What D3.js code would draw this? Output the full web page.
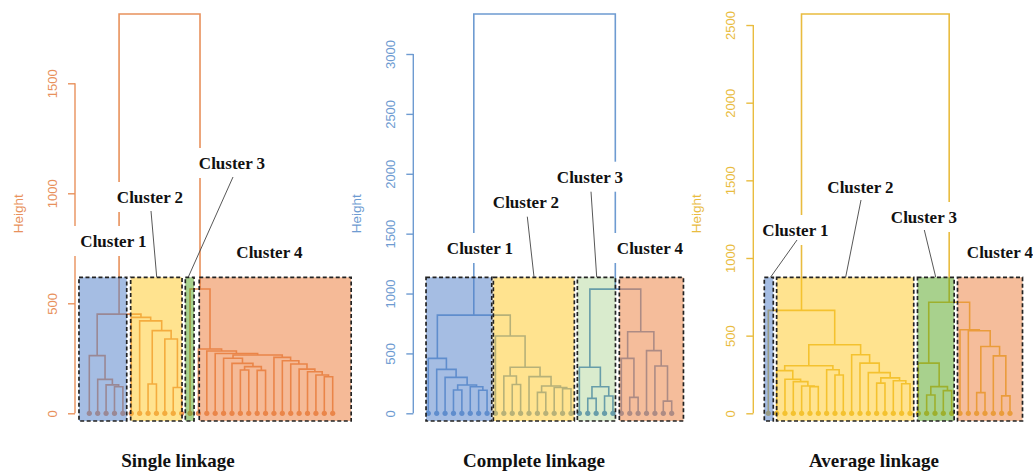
<!DOCTYPE html>
<html>
<head>
<meta charset="utf-8">
<script src="https://cdnjs.cloudflare.com/ajax/libs/d3/7.8.5/d3.min.js"></script>
<style>
  body { margin: 0; background: #fff; }
  svg { display: block; }
</style>
</head>
<body>
<div id="chart"></div>
<script>
// 30 samples, leaves numbered left to right as they sit in each dendrogram
let leafCount = 30

// merges in hclust style: negative = leaf (-1 is the leftmost), positive = earlier merge (1-based), then height
let singleMerge = [
  [-4, -5, 121], [-3, 1, 129], [-2, 2, 154], [-1, 3, 262],
  [-8, -9, 133], [-11, -12, 117], [-10, 6, 338], [5, 7, 376], [-7, 8, 420], [-6, 9, 436],
  [4, 10, 451],
  [-19, -20, 197], [-21, -22, 195], [12, 13, 212], [-18, 14, 227], [-17, 15, 250],
  [-29, -30, 166], [-28, 17, 174], [-27, 18, 189], [-26, 19, 201], [-25, 20, 224], [-24, 21, 239], [-23, 22, 254],
  [16, 23, 265], [-16, 24, 272], [-15, 25, 283], [-14, 26, 292],
  [-13, 27, 565],
  [11, 28, 1815]
]

let completeMerge = [
  [-4, -5, 195], [-7, -8, 192], [-6, 2, 222], [1, 3, 236], [-3, 4, 300], [-2, 5, 367], [-1, 6, 459],
  [-11, -12, 240], [-10, 8, 312], [-14, -15, 175], [-17, -18, 205], [-16, 11, 215], [10, 12, 228],
  [-13, 13, 306], [9, 14, 384], [-9, 15, 645],
  [7, 16, 820],
  [-20, -21, 125], [-22, -23, 144], [18, 19, 222], [-19, 20, 384],
  [-25, -26, 133], [-24, 22, 459], [-29, -30, 102], [-28, 24, 395], [-27, 25, 523], [23, 26, 681],
  [21, 27, 1037],
  [17, 28, 3334]
]

let averageMerge = [
  [-6, -7, 172], [-5, 1, 176], [-4, 2, 204], [-3, 3, 219], [-2, 4, 275],
  [-9, -10, 247], [-8, 6, 280], [5, 7, 306],
  [-14, -15, 194], [-17, -18, 190], [-16, 10, 210], [9, 11, 228], [-13, 12, 262], [-12, 13, 323], [-11, 14, 377],
  [8, 15, 441],
  [-1, 16, 663],
  [-20, -21, 118], [-22, -23, 146], [18, 19, 172], [-19, 20, 323],
  [-26, -27, 133], [-29, -30, 112], [-28, 23, 370], [22, 24, 430], [-25, 25, 532], [-24, 26, 538],
  [21, 27, 715],
  [17, 28, 2571]
]

let singleTicks = [0, 500, 1000, 1500]
let completeTicks = [0, 500, 1000, 1500, 2000, 2500, 3000]
let averageTicks = [0, 500, 1000, 1500, 2000, 2500]

let clusterNames = ['Cluster 1', 'Cluster 2', 'Cluster 3', 'Cluster 4']
// first and last leaf of each cluster
let singleClusters = [[0, 4], [5, 11], [12, 12], [13, 29]]
let completeClusters = [[0, 7], [8, 17], [18, 22], [23, 29]]
let averageClusters = [[0, 0], [1, 17], [18, 22], [23, 29]]

let titles = ['Single linkage', 'Complete linkage', 'Average linkage']

let boxColors = ['#5381C9', '#FFC71F', '#51A31B', '#EB7B37']

// layout for each panel (pixels, and box padding in leaf units)
let panels = [
  {
    merge: singleMerge, ticks: singleTicks, clusters: singleClusters, title: titles[0],
    color: '#E8915C', axisX: 75, leafRange: [89.3, 332.7], titleX: 178,
    boxPad: [[1.23, 0.46], [0.07, 0.05], [0.56, 0.48], [-0.1, 2.2]],
    boxAlpha: [0.52, 0.5, 0.5, 0.52],
    labels: [[113.5, 241, null], [150, 197, [151, 211, 156.7, 277]], [232, 163, [233, 177, 188.3, 277]], [269.5, 252, null]]
  },
  {
    merge: completeMerge, ticks: completeTicks, clusters: completeClusters, title: titles[1],
    color: '#6E9BD1', axisX: 413.3, leafRange: [428.3, 671.7], titleX: 534,
    boxPad: [[0.27, 0.56], [0.25, 0.4], [0.24, 0.3], [0.24, 1.4]],
    boxAlpha: [0.52, 0.5, 0.22, 0.5],
    labels: [[480, 248, null], [526, 201.7, [527.3, 216.7, 534, 277]], [590, 176.7, [591, 191.7, 596.7, 277]], [650, 248, null]]
  },
  {
    merge: averageMerge, ticks: averageTicks, clusters: averageClusters, title: titles[2],
    color: '#E9BC3F', axisX: 753.3, leafRange: [768.3, 1010], titleX: 874,
    boxPad: [[0.48, 0.6], [0, 0.45], [0.1, 0.3], [0.3, 1.5]],
    boxAlpha: [0.52, 0.5, 0.5, 0.5],
    labels: [[795.5, 230, [797, 240, 770.7, 277]], [860.5, 187, [861, 200, 845.7, 277]], [924, 217, [924.3, 230, 935.7, 277]], [1000, 252, null]]
  }
]

let baseY = 413.3
let topY = 14

let svg = d3.select('#chart')
  .append('svg')
    .attr('width', 1033)
    .attr('height', 473)

panels.forEach(p => {
  let x = d3.scaleLinear().domain([0, leafCount - 1]).range(p.leafRange)
  let rootHeight = p.merge[p.merge.length - 1][2]
  let y = d3.scaleLinear().domain([0, rootHeight]).range([baseY, topY])
  let g = svg.append('g')

  // node positions from the merge list
  let nodes = []
  let pos = id => id < 0 ? { x: x(-id - 1), h: 0 } : nodes[id - 1]
  p.merge.forEach(m => {
    let a = pos(m[0])
    let b = pos(m[1])
    nodes.push({ x: (a.x + b.x) / 2, h: m[2], a: a, b: b })
  })

  g.selectAll('path.link')
    .data(nodes)
    .enter()
    .append('path')
      .attr('class', 'link')
      .attr('d', n => `M${n.a.x},${y(n.a.h)}V${y(n.h)}H${n.b.x}V${y(n.b.h)}`)
      .attr('fill', 'none')
      .attr('stroke', p.color)
      .attr('stroke-width', 1.6)

  g.selectAll('circle.leaf')
    .data(d3.range(leafCount))
    .enter()
    .append('circle')
      .attr('class', 'leaf')
      .attr('cx', i => x(i))
      .attr('cy', y(0))
      .attr('r', 2.6)
      .attr('fill', p.color)

  // axis, R style
  let lastTick = p.ticks[p.ticks.length - 1]
  let ag = g.append('g')
    .attr('transform', `translate(${p.axisX},0)`)
    .call(d3.axisLeft(y).tickValues(p.ticks).tickSize(7).tickFormat(d3.format('d')))
  ag.select('.domain').remove()
  ag.append('line')
    .attr('y1', y(0))
    .attr('y2', y(lastTick))
  ag.selectAll('line')
    .attr('stroke', p.color)
    .attr('stroke-width', 1.4)
  ag.selectAll('.tick text')
    .attr('transform', 'rotate(-90)')
    .attr('x', 0)
    .attr('y', -18)
    .attr('dy', 0)
    .attr('text-anchor', 'middle')
    .attr('fill', p.color)
    .style('font-family', 'Liberation Sans, Arial, sans-serif')
    .style('font-size', '13px')

  g.append('text')
    .attr('transform', `translate(${p.axisX - 52},${(baseY + topY) / 2}) rotate(-90)`)
    .attr('text-anchor', 'middle')
    .attr('fill', p.color)
    .style('font-family', 'Liberation Sans, Arial, sans-serif')
    .style('font-size', '13.5px')
    .text('Height')

  // cluster boxes on top of the tree
  g.selectAll('rect.box')
    .data(p.clusters)
    .enter()
    .append('rect')
      .attr('class', 'box')
      .attr('x', (c, i) => x(c[0] - p.boxPad[i][0]))
      .attr('y', baseY - 136)
      .attr('width', (c, i) => x(c[1] + p.boxPad[i][1]) - x(c[0] - p.boxPad[i][0]))
      .attr('height', 143.7)
      .attr('fill', (c, i) => boxColors[i])
      .attr('fill-opacity', (c, i) => p.boxAlpha[i])
      .attr('stroke', '#222')
      .attr('stroke-width', 1.7)
      .attr('stroke-dasharray', '4 2.5')

  // cluster labels with white backing
  p.labels.forEach((l, i) => {
    let lg = g.append('g')
    let t = lg.append('text')
      .attr('x', l[0])
      .attr('y', l[1] + 6)
      .attr('text-anchor', 'middle')
      .attr('fill', '#111')
      .style('font-family', 'Liberation Serif, Times New Roman, serif')
      .style('font-weight', 'bold')
      .style('font-size', '17px')
      .text(clusterNames[i])
    let w = t.node().getComputedTextLength()
    lg.insert('rect', 'text')
      .attr('x', l[0] - w / 2 - 8)
      .attr('y', l[1] - 15)
      .attr('width', w + 16)
      .attr('height', 30)
      .attr('fill', '#fff')
    if (l[2]) {
      g.append('line')
        .attr('x1', l[2][0])
        .attr('y1', l[2][1])
        .attr('x2', l[2][2])
        .attr('y2', l[2][3])
        .attr('stroke', '#444')
        .attr('stroke-width', 0.9)
    }
  })

  g.append('text')
    .attr('x', p.titleX)
    .attr('y', 467)
    .attr('text-anchor', 'middle')
    .attr('fill', '#111')
    .style('font-family', 'Liberation Serif, Times New Roman, serif')
    .style('font-weight', 'bold')
    .style('font-size', '19px')
    .text(p.title)
})
</script>
</body>
</html>
